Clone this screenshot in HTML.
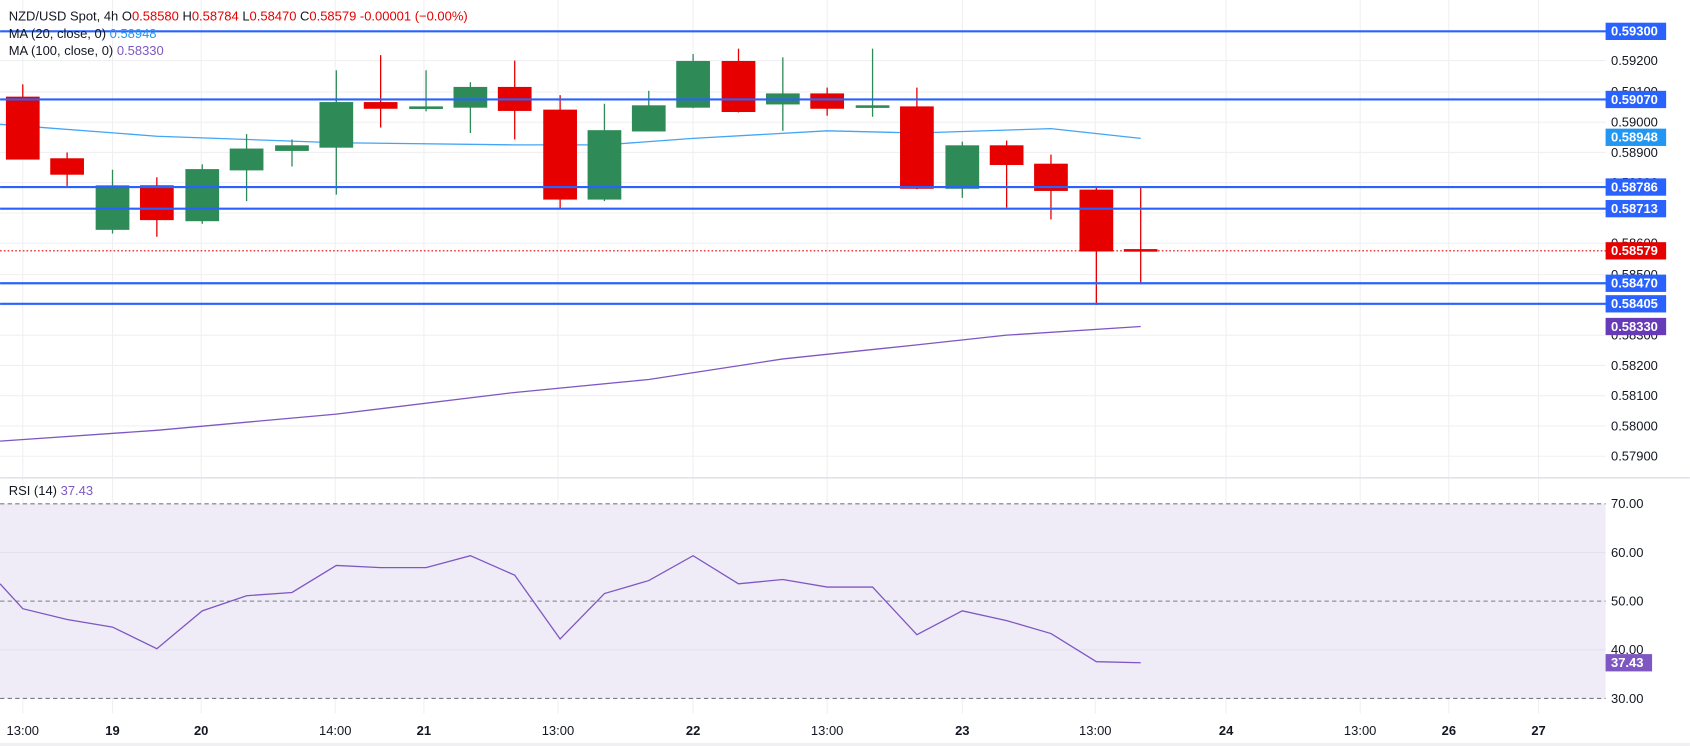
<!DOCTYPE html>
<html><head><meta charset="utf-8"><style>
html,body{margin:0;padding:0;background:#fff;}
svg{display:block;font-family:"Liberation Sans",sans-serif;}
</style></head><body>
<svg width="1690" height="746" viewBox="0 0 1563 690" xmlns="http://www.w3.org/2000/svg">
<rect width="1563" height="690" fill="#fff"/>
<!-- vertical grid -->
<g stroke="#f0f0f3" stroke-width="1">
<line x1="21" y1="0" x2="21" y2="660"/><line x1="104" y1="0" x2="104" y2="660"/><line x1="186" y1="0" x2="186" y2="660"/>
<line x1="310" y1="0" x2="310" y2="660"/><line x1="392" y1="0" x2="392" y2="660"/><line x1="516" y1="0" x2="516" y2="660"/>
<line x1="641" y1="0" x2="641" y2="660"/><line x1="765" y1="0" x2="765" y2="660"/><line x1="890" y1="0" x2="890" y2="660"/>
<line x1="1013" y1="0" x2="1013" y2="660"/><line x1="1134" y1="0" x2="1134" y2="660"/><line x1="1258" y1="0" x2="1258" y2="660"/>
<line x1="1340" y1="0" x2="1340" y2="660"/><line x1="1423" y1="0" x2="1423" y2="660"/>
</g>
<g stroke="#f0f0f3">
<line x1="0" y1="56" x2="1485" y2="56"/><line x1="0" y1="85" x2="1485" y2="85"/><line x1="0" y1="113" x2="1485" y2="113"/>
<line x1="0" y1="141" x2="1485" y2="141"/><line x1="0" y1="169" x2="1485" y2="169"/><line x1="0" y1="197" x2="1485" y2="197"/>
<line x1="0" y1="225" x2="1485" y2="225"/><line x1="0" y1="254" x2="1485" y2="254"/><line x1="0" y1="282" x2="1485" y2="282"/>
<line x1="0" y1="310" x2="1485" y2="310"/><line x1="0" y1="338" x2="1485" y2="338"/><line x1="0" y1="366" x2="1485" y2="366"/>
<line x1="0" y1="394" x2="1485" y2="394"/><line x1="0" y1="422" x2="1485" y2="422"/>
</g>
<line x1="0" y1="442" x2="1563" y2="442" stroke="#e0e3eb" stroke-width="1.5"/>
<!-- axis ticks -->
<g font-size="12" fill="#131722">
<text x="1490" y="60">0.59200</text><text x="1490" y="89">0.59100</text><text x="1490" y="117">0.59000</text>
<text x="1490" y="145">0.58900</text><text x="1490" y="173">0.58800</text><text x="1490" y="229">0.58600</text>
<text x="1490" y="258">0.58500</text><text x="1490" y="314">0.58300</text><text x="1490" y="342">0.58200</text>
<text x="1490" y="370">0.58100</text><text x="1490" y="398">0.58000</text><text x="1490" y="426">0.57900</text>
</g>
<!-- MAs -->
<polyline fill="none" stroke="#42a5f5" stroke-width="1.2" points="0,115 40,118 145,126 311,132 476,134 559,134 641,128 765,121 848,123 972,119 1055,128"/>
<polyline fill="none" stroke="#7e57c2" stroke-width="1.2" points="0,408 145,398 311,383 476,363 600,351 724,332 848,319 931,310 1055,302"/>
<!-- candles -->
<g stroke-width="1.2">
<g fill="#e60000" stroke="#e60000">
<line x1="21" y1="78" x2="21" y2="147"/><rect x="6" y="90" width="30" height="57"/>
<line x1="62" y1="141" x2="62" y2="172"/><rect x="47" y="147" width="30" height="14"/>
<line x1="145" y1="164" x2="145" y2="219"/><rect x="130" y="172" width="30" height="31"/>
<line x1="352" y1="51" x2="352" y2="118"/><rect x="337" y="95" width="30" height="5"/>
<line x1="476" y1="56" x2="476" y2="129"/><rect x="461" y="81" width="30" height="21"/>
<line x1="518" y1="88" x2="518" y2="193"/><rect x="503" y="102" width="30" height="82"/>
<line x1="683" y1="45" x2="683" y2="104"/><rect x="668" y="57" width="30" height="46"/>
<line x1="765" y1="81" x2="765" y2="107"/><rect x="750" y="87" width="30" height="13"/>
<line x1="848" y1="81" x2="848" y2="175"/><rect x="833" y="99" width="30" height="75"/>
<line x1="931" y1="130" x2="931" y2="192"/><rect x="916" y="135" width="30" height="17"/>
<line x1="972" y1="143" x2="972" y2="203"/><rect x="957" y="152" width="30" height="24"/>
<line x1="1014" y1="172" x2="1014" y2="282"/><rect x="999" y="176" width="30" height="56"/>
<line x1="1055" y1="173" x2="1055" y2="263"/><rect x="1040" y="231" width="30" height="1.2"/>
</g>
<g fill="#2e8b57" stroke="#2e8b57">
<line x1="104" y1="157" x2="104" y2="216"/><rect x="89" y="172" width="30" height="40"/>
<line x1="187" y1="152" x2="187" y2="207"/><rect x="172" y="157" width="30" height="47"/>
<line x1="228" y1="124" x2="228" y2="186"/><rect x="213" y="138" width="30" height="19"/>
<line x1="270" y1="129" x2="270" y2="154"/><rect x="255" y="135" width="30" height="4"/>
<line x1="311" y1="65" x2="311" y2="180"/><rect x="296" y="95" width="30" height="41"/>
<line x1="394" y1="65" x2="394" y2="103"/><rect x="379" y="99" width="30" height="1.2"/>
<line x1="435" y1="76" x2="435" y2="123"/><rect x="420" y="81" width="30" height="18"/>
<line x1="559" y1="96" x2="559" y2="186"/><rect x="544" y="121" width="30" height="63"/>
<line x1="600" y1="84" x2="600" y2="121"/><rect x="585" y="98" width="30" height="23"/>
<line x1="641" y1="50" x2="641" y2="100"/><rect x="626" y="57" width="30" height="42"/>
<line x1="724" y1="53" x2="724" y2="121"/><rect x="709" y="87" width="30" height="9"/>
<line x1="807" y1="45" x2="807" y2="108"/><rect x="792" y="98" width="30" height="1.2"/>
<line x1="890" y1="131" x2="890" y2="183"/><rect x="875" y="135" width="30" height="39"/>
</g>
</g>
<!-- horizontal levels -->
<g stroke="#2962ff" stroke-width="2">
<line x1="0" y1="29" x2="1489" y2="29"/><line x1="0" y1="92" x2="1489" y2="92"/>
<line x1="0" y1="173" x2="1489" y2="173"/><line x1="0" y1="193" x2="1489" y2="193"/>
<line x1="0" y1="262" x2="1489" y2="262"/><line x1="0" y1="281" x2="1489" y2="281"/>
</g>
<line x1="0" y1="232" x2="1489" y2="232" stroke="#e60000" stroke-width="1" stroke-dasharray="1.5,2"/>
<!-- price labels -->
<g font-size="12" font-weight="bold" fill="#fff">
<rect x="1485" y="21" width="56" height="16" fill="#2962ff"/><text x="1490" y="33">0.59300</text>
<rect x="1485" y="84" width="56" height="16" fill="#2962ff"/><text x="1490" y="96">0.59070</text>
<rect x="1485" y="119" width="56" height="16" fill="#2196f3"/><text x="1490" y="131">0.58948</text>
<rect x="1485" y="165" width="56" height="16" fill="#2962ff"/><text x="1490" y="177">0.58786</text>
<rect x="1485" y="185" width="56" height="16" fill="#2962ff"/><text x="1490" y="197">0.58713</text>
<rect x="1485" y="224" width="56" height="16" fill="#e60000"/><text x="1490" y="236">0.58579</text>
<rect x="1485" y="254" width="56" height="16" fill="#2962ff"/><text x="1490" y="266">0.58470</text>
<rect x="1485" y="273" width="56" height="16" fill="#2962ff"/><text x="1490" y="285">0.58405</text>
<rect x="1485" y="294" width="56" height="16" fill="#673ab7"/><text x="1490" y="306">0.58330</text>
</g>
<!-- legend -->
<g font-size="12" fill="#131722">
<text x="8" y="19">NZD/USD Spot, 4h  O<tspan fill="#e60000">0.58580</tspan>  H<tspan fill="#e60000">0.58784</tspan>  L<tspan fill="#e60000">0.58470</tspan>  C<tspan fill="#e60000">0.58579</tspan>  <tspan fill="#e60000">-0.00001 (−0.00%)</tspan></text>
<text x="8" y="35">MA (20, close, 0)  <tspan fill="#2196f3">0.58948</tspan></text>
<text x="8" y="51">MA (100, close, 0)  <tspan fill="#7e57c2">0.58330</tspan></text>
</g>
<!-- RSI -->
<rect x="0" y="466" width="1485" height="180" fill="#efecf7"/>
<g stroke="#e4e1ec"><line x1="0" y1="511" x2="1485" y2="511"/><line x1="0" y1="601" x2="1485" y2="601"/></g>
<g stroke="#787b86" stroke-dasharray="4,3"><line x1="0" y1="466" x2="1485" y2="466"/><line x1="0" y1="556" x2="1485" y2="556"/><line x1="0" y1="646" x2="1485" y2="646"/></g>
<polyline fill="none" stroke="#7e57c2" stroke-width="1.2" points="0,540 21,563 62,573 104,580 145,600 187,565 228,551 270,548 311,523 352,525 394,525 435,514 476,532 518,591 559,549 600,537 641,514 683,540 724,536 765,543 807,543 848,587 890,565 931,574 972,586 1014,612 1055,613"/>
<text x="8" y="458" font-size="12" fill="#131722">RSI (14)  <tspan fill="#7e57c2">37.43</tspan></text>
<g font-size="12" fill="#131722">
<text x="1490" y="470">70.00</text><text x="1490" y="515">60.00</text><text x="1490" y="560">50.00</text><text x="1490" y="605">40.00</text><text x="1490" y="650">30.00</text>
</g>
<rect x="1485" y="605" width="43" height="16" fill="#7e57c2"/><text x="1490" y="617" font-size="12" font-weight="bold" fill="#fff">37.43</text>
<!-- time axis -->
<g font-size="12" fill="#131722" text-anchor="middle">
<text x="21" y="680">13:00</text><text x="104" y="680" font-weight="bold">19</text><text x="186" y="680" font-weight="bold">20</text>
<text x="310" y="680">14:00</text><text x="392" y="680" font-weight="bold">21</text><text x="516" y="680">13:00</text>
<text x="641" y="680" font-weight="bold">22</text><text x="765" y="680">13:00</text><text x="890" y="680" font-weight="bold">23</text>
<text x="1013" y="680">13:00</text><text x="1134" y="680" font-weight="bold">24</text><text x="1258" y="680">13:00</text>
<text x="1340" y="680" font-weight="bold">26</text><text x="1423" y="680" font-weight="bold">27</text>
</g>
<rect x="0" y="687" width="1563" height="3" fill="#f0f0f3"/>
</svg>
</body></html>
